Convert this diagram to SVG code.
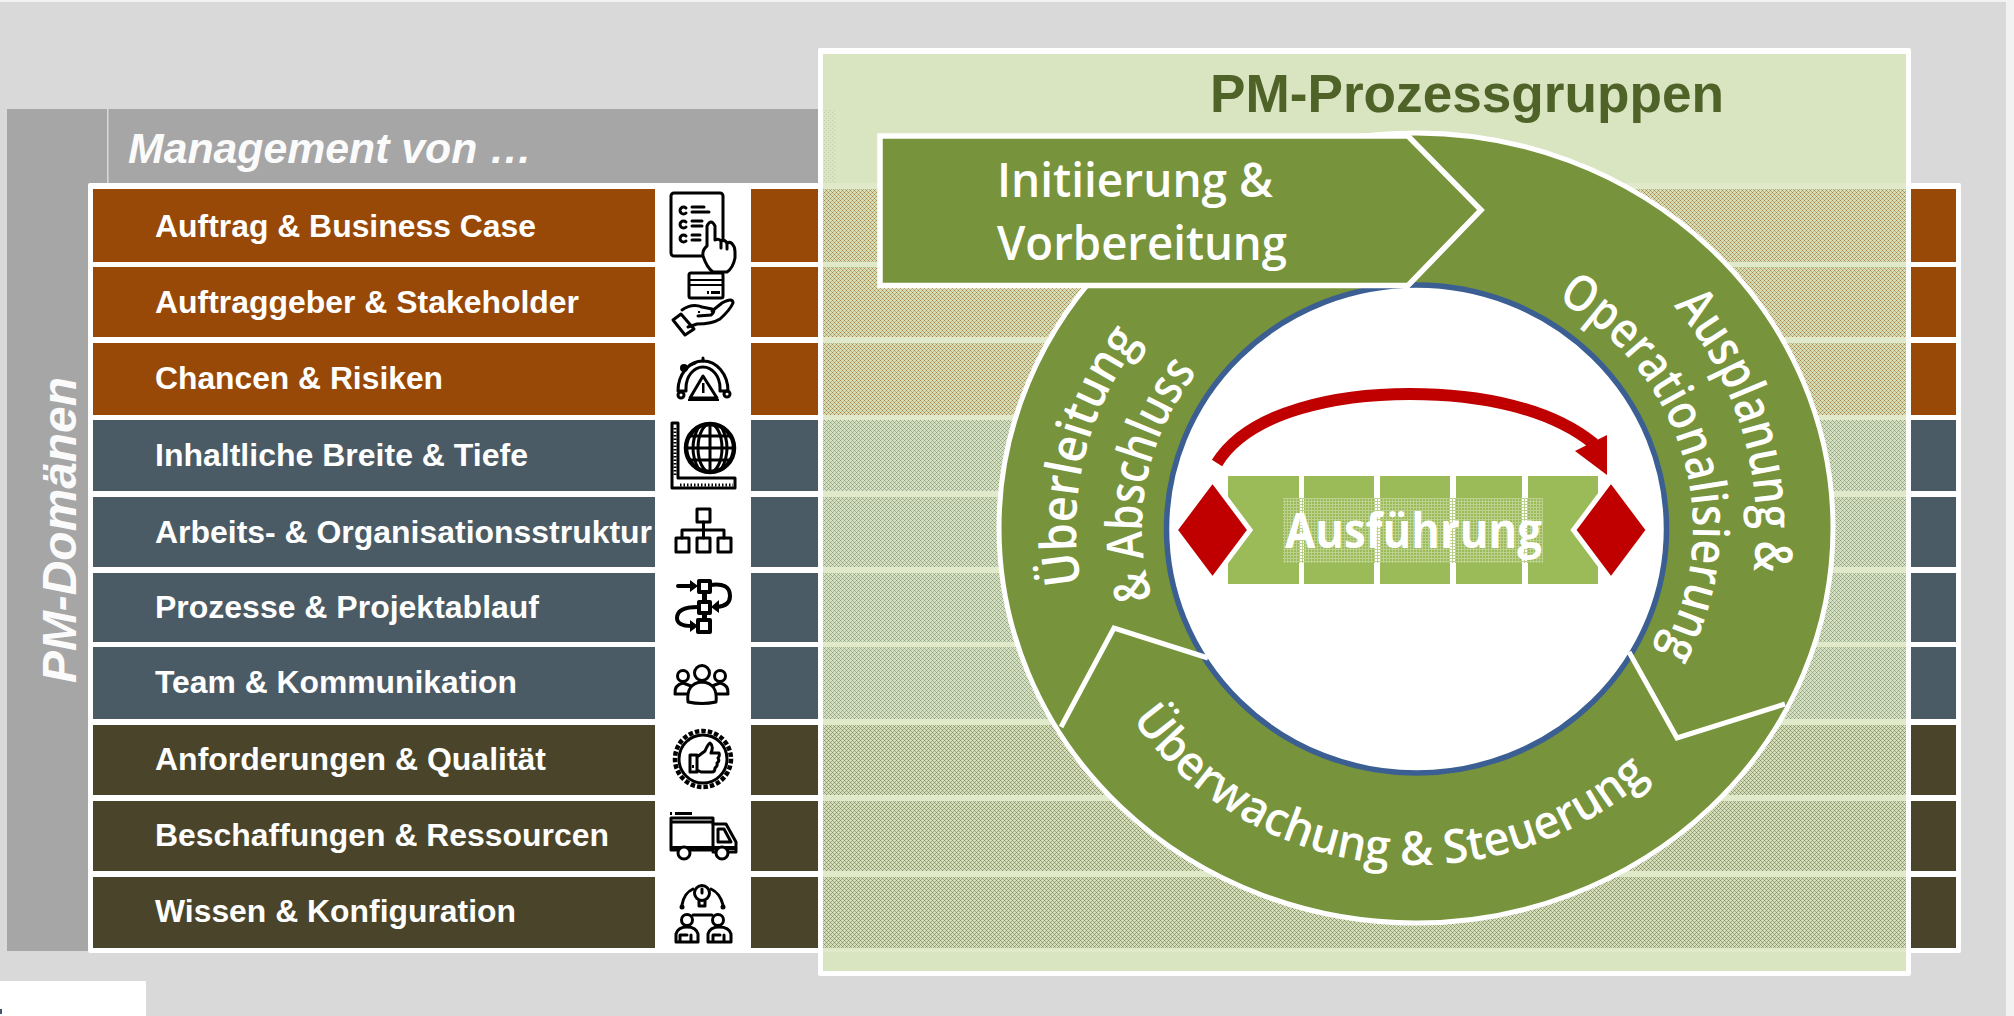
<svg xmlns="http://www.w3.org/2000/svg" xmlns:xlink="http://www.w3.org/1999/xlink" width="2014" height="1016" viewBox="0 0 2014 1016">
<style>
.brown{fill:#984807}.blue{fill:#4a5b65}.olive{fill:#4a452a}
.lbl{font-family:"Liberation Sans",Arial,sans-serif;font-weight:700;font-size:32px;fill:#fff}
.hd{font-family:"Liberation Sans",Arial,sans-serif;font-weight:700;font-style:italic;fill:#fbfbfb}
.ring{font-family:"Open Sans","Noto Sans",sans-serif;font-weight:600;fill:#fff}
.ic{fill:none;stroke:#000;stroke-width:3;stroke-linejoin:round;stroke-linecap:round}
.icw{fill:#fff;stroke:#000;stroke-width:3;stroke-linejoin:round;stroke-linecap:round}
.ick{fill:#000}
.seg{fill:#9bbb59}
.dia{fill:#c00000;stroke:#fff;stroke-width:5}
.cut{fill:none;stroke:#fff;stroke-width:5;stroke-linejoin:miter}
</style>
<defs>
<pattern id="dB" width="4" height="4" patternUnits="userSpaceOnUse" shape-rendering="crispEdges"><rect width="4" height="4" fill="#d6dfb6"/><rect x="0" y="0" width="1" height="1" fill="#a8824c"/><rect x="2" y="2" width="1" height="1" fill="#a8824c"/><rect x="1" y="1" width="1" height="1" fill="#bfae7a"/><rect x="3" y="3" width="1" height="1" fill="#bfae7a"/><rect x="1" y="3" width="1" height="1" fill="#bfae7a"/><rect x="3" y="1" width="1" height="1" fill="#bfae7a"/></pattern>
<pattern id="dS" width="4" height="4" patternUnits="userSpaceOnUse" shape-rendering="crispEdges"><rect width="4" height="4" fill="#d6e1bd"/><rect x="0" y="0" width="1" height="1" fill="#8a9b8a"/><rect x="2" y="2" width="1" height="1" fill="#8a9b8a"/><rect x="1" y="1" width="1" height="1" fill="#a8b69c"/><rect x="3" y="3" width="1" height="1" fill="#a8b69c"/><rect x="1" y="3" width="1" height="1" fill="#a8b69c"/><rect x="3" y="1" width="1" height="1" fill="#a8b69c"/></pattern>
<pattern id="dO" width="4" height="4" patternUnits="userSpaceOnUse" shape-rendering="crispEdges"><rect width="4" height="4" fill="#d4dfb8"/><rect x="0" y="0" width="1" height="1" fill="#84896a"/><rect x="2" y="2" width="1" height="1" fill="#84896a"/><rect x="1" y="1" width="1" height="1" fill="#a2aa89"/><rect x="3" y="3" width="1" height="1" fill="#a2aa89"/><rect x="1" y="3" width="1" height="1" fill="#a2aa89"/><rect x="3" y="1" width="1" height="1" fill="#a2aa89"/></pattern>
<pattern id="dG" width="4" height="4" patternUnits="userSpaceOnUse" shape-rendering="crispEdges"><rect x="0" y="0" width="1" height="1" fill="#c0cfa6"/><rect x="2" y="2" width="1" height="1" fill="#c0cfa6"/></pattern>
<pattern id="dA" width="3" height="3" patternUnits="userSpaceOnUse" shape-rendering="crispEdges"><rect x="0" y="0" width="3" height="1" fill="#bdd18e"/><rect x="0" y="0" width="1" height="3" fill="#bdd18e"/></pattern>
<path id="pAus" d="M1416,188 A340,340 0 1 1 1416,868"/>
<path id="pOp" d="M1416,263 A277,265 0 1 1 1416,793"/>
<path id="pUe" d="M1416,848 A340,320 0 1 1 1416,208"/>
<path id="pAb" d="M1416,786 A274,258 0 1 1 1416,270"/>
<path id="pUw" d="M1071,528 A345,337 0 1 0 1761,528"/>
</defs>

<g id="background">
<rect width="2014" height="1016" fill="#f2f2f2"/>
<rect x="0" y="2" width="2006" height="1014" fill="#d9d9d9"/>
<rect x="0" y="981" width="146" height="35" fill="#fff"/>
<rect x="0" y="1009" width="2" height="5" fill="#44546a"/>
</g>

<g id="domains-frame">
<rect x="7" y="109" width="811" height="842" fill="#a6a6a6"/>
<rect x="107" y="109" width="1.5" height="74" fill="#d9d9d9"/>
<rect x="88" y="183" width="1873" height="770" rx="2" fill="#fff"/>
<text class="hd" x="128" y="163" font-size="42" textLength="404" lengthAdjust="spacingAndGlyphs">Management von …</text>
<text class="hd" transform="translate(76,683) rotate(-90)" font-size="48" textLength="306" lengthAdjust="spacingAndGlyphs">PM-Domänen</text>
</g>

<g id="row-1"><rect class="brown" x="93" y="189" width="562" height="73"/><rect class="brown" x="751" y="189" width="67" height="73"/><rect class="brown" x="1911" y="189" width="45" height="73"/><text class="lbl" x="155" y="237" textLength="381" lengthAdjust="spacingAndGlyphs">Auftrag &amp; Business Case</text></g>
<g id="row-2"><rect class="brown" x="93" y="267" width="562" height="70"/><rect class="brown" x="751" y="267" width="67" height="70"/><rect class="brown" x="1911" y="267" width="45" height="70"/><text class="lbl" x="155" y="313" textLength="424" lengthAdjust="spacingAndGlyphs">Auftraggeber &amp; Stakeholder</text></g>
<g id="row-3"><rect class="brown" x="93" y="343" width="562" height="72"/><rect class="brown" x="751" y="343" width="67" height="72"/><rect class="brown" x="1911" y="343" width="45" height="72"/><text class="lbl" x="155" y="389" textLength="288" lengthAdjust="spacingAndGlyphs">Chancen &amp; Risiken</text></g>
<g id="row-4"><rect class="blue" x="93" y="420" width="562" height="71"/><rect class="blue" x="751" y="420" width="67" height="71"/><rect class="blue" x="1911" y="420" width="45" height="71"/><text class="lbl" x="155" y="466" textLength="373" lengthAdjust="spacingAndGlyphs">Inhaltliche Breite &amp; Tiefe</text></g>
<g id="row-5"><rect class="blue" x="93" y="497" width="562" height="70"/><rect class="blue" x="751" y="497" width="67" height="70"/><rect class="blue" x="1911" y="497" width="45" height="70"/><text class="lbl" x="155" y="543" textLength="497" lengthAdjust="spacingAndGlyphs">Arbeits- &amp; Organisationsstruktur</text></g>
<g id="row-6"><rect class="blue" x="93" y="573" width="562" height="69"/><rect class="blue" x="751" y="573" width="67" height="69"/><rect class="blue" x="1911" y="573" width="45" height="69"/><text class="lbl" x="155" y="618" textLength="384" lengthAdjust="spacingAndGlyphs">Prozesse &amp; Projektablauf</text></g>
<g id="row-7"><rect class="blue" x="93" y="647" width="562" height="72"/><rect class="blue" x="751" y="647" width="67" height="72"/><rect class="blue" x="1911" y="647" width="45" height="72"/><text class="lbl" x="155" y="693" textLength="362" lengthAdjust="spacingAndGlyphs">Team &amp; Kommunikation</text></g>
<g id="row-8"><rect class="olive" x="93" y="725" width="562" height="70"/><rect class="olive" x="751" y="725" width="67" height="70"/><rect class="olive" x="1911" y="725" width="45" height="70"/><text class="lbl" x="155" y="770" textLength="391" lengthAdjust="spacingAndGlyphs">Anforderungen &amp; Qualität</text></g>
<g id="row-9"><rect class="olive" x="93" y="801" width="562" height="70"/><rect class="olive" x="751" y="801" width="67" height="70"/><rect class="olive" x="1911" y="801" width="45" height="70"/><text class="lbl" x="155" y="846" textLength="454" lengthAdjust="spacingAndGlyphs">Beschaffungen &amp; Ressourcen</text></g>
<g id="row-10"><rect class="olive" x="93" y="877" width="562" height="71"/><rect class="olive" x="751" y="877" width="67" height="71"/><rect class="olive" x="1911" y="877" width="45" height="71"/><text class="lbl" x="155" y="922" textLength="361" lengthAdjust="spacingAndGlyphs">Wissen &amp; Konfiguration</text></g>

<g id="icon-1">
<rect class="ic" x="671" y="193" width="52" height="63" rx="3"/>
<path class="ic" d="M686,208 a3.5,3.5 0 1 0 0,5 M686,222 a3.5,3.5 0 1 0 0,5 M686,236 a3.5,3.5 0 1 0 0,5 M692,207 h12 M692,212 h17 M692,221 h10 M692,226 h10 M692,235 h8 M692,240 h8"/>
<path class="icw" d="M707,246 L707,226 Q711,218 715,226 L715,240 Q719,238 721,241 Q725,239 727,243 Q731,241 733,245 Q735,247 735,252 L735,258 Q733,268 727,272 L713,272 Q707,268 703,256 Q702,250 707,246 Z"/>
<path class="ic" d="M721,241 v7 M727,243 v6"/>
</g>
<g id="icon-2">
<rect class="ic" x="689" y="273" width="34" height="25" rx="2"/>
<rect class="ick" x="689" y="279" width="34" height="2"/><rect class="ick" x="689" y="284" width="34" height="2"/>
<rect class="ick" x="707" y="291" width="2" height="3"/><rect class="ick" x="711" y="291" width="9" height="3"/>
<path class="ic" d="M682,310 Q692,303 702,307 L712,309 Q716,311 711,315 L698,316 M712,311 L722,303 Q733,297 733,303 Q730,310 720,319 Q712,324 697,324 L688,327"/>
<path class="ic" d="M673,320 L681,314 L694,329 L685,335 Z"/>
<rect class="ick" x="698" y="311" width="2" height="2"/>
</g>
<g id="icon-3">
<path class="ic" d="M678,391 A25,30 0 0 1 728,391 M686,391 L686,388 A17,21 0 0 1 720,388 L720,391 M678,391 H686 M720,391 H728"/>
<path class="ic" d="M703,376 L690,398 H717 Z"/>
<rect class="ick" x="702" y="383" width="2.5" height="10"/>
<rect class="ick" x="688" y="399" width="31" height="2"/>
<circle class="ic" cx="681" cy="395" r="3"/><circle class="ic" cx="727" cy="394" r="3"/>
<circle class="ick" cx="684" cy="368" r="4"/><path class="ic" d="M690,365 l5,-2 M703,358 v3"/>
</g>
<g id="icon-4">
<path class="ic" d="M672,423 H678 V478 H735 V488 H672 Z"/>
<path d="M675,428 V476 M680,485 H733" fill="none" stroke="#000" stroke-width="3" stroke-dasharray="1.5 2"/>
<circle cx="710" cy="448" r="24" fill="none" stroke="#000" stroke-width="4.500"/>
<ellipse class="ic" cx="710" cy="448" rx="12" ry="24"/>
<path class="ic" d="M710,425 V471 M687,448 H733 M691,436 H729 M691,460 H729"/>
<path class="ic" d="M698,428 Q688,448 698,468 M722,428 Q732,448 722,468"/>
</g>
<g id="icon-5">
<rect class="ic" x="697" y="509" width="13" height="13"/>
<path class="ic" d="M703.500,522 V538 M682,538 V530 H724 V538"/>
<rect class="ic" x="676" y="538" width="13" height="14"/><rect class="ic" x="697" y="538" width="13" height="14"/><rect class="ic" x="718" y="538" width="13" height="14"/>
</g>
<g id="icon-6">
<rect class="ic" x="699" y="581" width="11" height="11" style="stroke-width:4"/><rect class="ic" x="699" y="602" width="11" height="11" style="stroke-width:4"/><rect class="ic" x="698" y="620" width="12" height="12" style="stroke-width:4"/>
<rect class="ick" x="702" y="592" width="5" height="10"/><rect class="ick" x="702" y="613" width="5" height="7"/>
<path class="ic" d="M678,586 H693 M710,585 Q730,582 730,596 Q730,606 717,607 M698,607 Q677,607 677,618 Q677,626 692,626" style="stroke-width:4"/>
<path class="ick" d="M690,580 L698,586 L690,592 Z M719,600 L711,607 L719,613 Z M690,620 L698,626 L690,632 Z"/>
</g>
<g id="icon-7">
<circle class="ic" cx="683" cy="676" r="5.500"/><circle class="ic" cx="720" cy="676" r="5.500"/>
<path class="ic" d="M675,694 Q674,685 683,683 L691,686 M728,694 Q729,685 720,683 L712,686 M675,694 H687 M728,694 H716"/>
<circle class="icw" cx="702" cy="673" r="7.500"/>
<path class="icw" d="M688,702 Q686,683 702,682 Q718,683 716,702 Q702,705 688,702 Z"/>
</g>
<g id="icon-8">
<circle cx="703" cy="759" r="28" fill="none" stroke="#000" stroke-width="4.500" stroke-dasharray="4.500 2"/>
<circle class="ic" cx="703" cy="759" r="24"/>
<path class="ic" d="M690,755 H697 V772 H690 Z M697,757 L705,751 Q708,744 710,743 Q714,746 711,753 H719 Q720,756 718,758 Q720,761 717,763 Q718,766 715,768 Q715,772 712,772 H701 L697,770"/>
<rect class="ick" x="692" y="765" width="2" height="3"/>
</g>
<g id="icon-9">
<path class="ick" d="M670,812 h2 v3 h-2 z M675,812 h17 v3 h-17 z"/>
<path class="ic" d="M671,818 H713 V850 H671 Z M671,822 H713"/>
<path class="ic" d="M713,824 H726 L736,842 V852 H713 M718,829 H724 L731,842 H718 Z"/>
<rect class="ick" x="671" y="846" width="64" height="4"/>
<circle class="icw" cx="684" cy="853" r="6"/><circle class="icw" cx="722" cy="853" r="6"/>
</g>
<g id="icon-10">
<circle class="ic" cx="702" cy="893" r="7.500"/><path class="ic" d="M699,901 V906 H705 V901 M702,889 v4"/>
<path class="ic" d="M693,889 Q684,893 682,905 M711,889 Q720,893 723,905"/>
<circle class="ick" cx="682" cy="907" r="2.500"/><circle class="ick" cx="723" cy="907" r="2.500"/>
<circle class="ic" cx="687" cy="920" r="5.500"/><circle class="ic" cx="718" cy="920" r="5.500"/>
<path class="ic" d="M693,915 H712"/>
<path class="ic" d="M676,942 V934 Q678,927 687,927 Q696,927 698,934 V942 Z M708,942 V934 Q710,927 719,927 Q729,927 731,934 V942 Z M680,941 V935 H687 M691,941 V935 M713,941 V935 H720 M724,941 V935"/>
</g>

<g id="process-panel">
<rect x="818" y="48" width="1093" height="928" rx="2" fill="#fff"/>
<rect x="823" y="54" width="1083" height="917" fill="#d9e4c0"/>
<rect x="823" y="109" width="12" height="74" fill="url(#dG)"/>
<rect x="823" y="183" width="1083" height="769" fill="#e0eaca"/>
<rect x="823" y="189" width="1083" height="73" fill="url(#dB)"/>
<rect x="823" y="267" width="1083" height="70" fill="url(#dB)"/>
<rect x="823" y="343" width="1083" height="72" fill="url(#dB)"/>
<rect x="823" y="420" width="1083" height="71" fill="url(#dS)"/>
<rect x="823" y="497" width="1083" height="70" fill="url(#dS)"/>
<rect x="823" y="573" width="1083" height="69" fill="url(#dS)"/>
<rect x="823" y="647" width="1083" height="72" fill="url(#dS)"/>
<rect x="823" y="725" width="1083" height="70" fill="url(#dO)"/>
<rect x="823" y="801" width="1083" height="70" fill="url(#dO)"/>
<rect x="823" y="877" width="1083" height="71" fill="url(#dO)"/>
<text x="1210" y="112" font-family="'Liberation Sans',Arial,sans-serif" font-weight="700" font-size="54" fill="#4f6228" textLength="514" lengthAdjust="spacingAndGlyphs">PM-Prozessgruppen</text>
</g>

<g id="cycle-ring">
<path fill="#77933c" stroke="#fff" stroke-width="5" d="M999,528 A417,395 0 1 1 1833,528 A417,395 0 1 1 999,528 Z"/>
<ellipse cx="1416.500" cy="529" rx="250" ry="244" fill="#fff" stroke="#3b5f92" stroke-width="5.500"/>
<path class="cut" d="M1061,727 L1114,628 L1208,658"/>
<path class="cut" d="M1629,652 L1677,738 L1785,704"/>
</g>

<g id="node-ausplanung"><text class="ring" font-size="52"><textPath href="#pAus" startOffset="292" textLength="285" lengthAdjust="spacingAndGlyphs">Ausplanung &amp;</textPath></text>
<text class="ring" font-size="50"><textPath href="#pOp" startOffset="147" textLength="409" lengthAdjust="spacingAndGlyphs">Operationalisierung</textPath></text></g>
<g id="node-ueberleitung"><text class="ring" font-size="50"><textPath href="#pUe" startOffset="462" textLength="258" lengthAdjust="spacingAndGlyphs">Überleitung</textPath></text>
<text class="ring" font-size="50"><textPath href="#pAb" startOffset="346" textLength="240" lengthAdjust="spacingAndGlyphs">&amp; Abschluss</textPath></text></g>
<g id="node-ueberwachung"><text class="ring" font-size="47"><textPath href="#pUw" startOffset="204" textLength="586" lengthAdjust="spacingAndGlyphs">Überwachung &amp; Steuerung</textPath></text></g>

<g id="node-initiierung">
<path fill="#77933c" stroke="#fff" stroke-width="5.500" d="M880,136 H1408 L1481,210 L1408,285.500 H880 Z"/>
<text class="ring" x="997" y="197" font-size="47" textLength="276" lengthAdjust="spacingAndGlyphs">Initiierung &amp;</text>
<text class="ring" x="997" y="260" font-size="47" textLength="290" lengthAdjust="spacingAndGlyphs">Vorbereitung</text>
</g>

<g id="node-ausfuehrung">
<rect class="seg" x="1228" y="476" width="71" height="108"/><rect class="seg" x="1304" y="476" width="70" height="108"/><rect class="seg" x="1380" y="476" width="70" height="108"/><rect class="seg" x="1456" y="476" width="66" height="108"/><rect class="seg" x="1528" y="476" width="70" height="108"/>
<rect x="1283" y="498" width="260" height="65" fill="url(#dA)"/>
<polygon class="dia" points="1212.500,480 1250,530 1212.500,580 1175,530"/>
<polygon class="dia" points="1611,480 1648.500,530 1611,580 1573.500,530"/>
<text x="1285" y="548" font-family="'Open Sans','Noto Sans',sans-serif" font-weight="700" fill="#fff" font-size="48" textLength="257" lengthAdjust="spacingAndGlyphs">Ausführung</text>
</g>

<g id="connectors">
<path d="M1217,463 C1250,410 1340,394 1410,394 C1480,394 1550,408 1594,444" fill="none" stroke="#c00000" stroke-width="12"/>
<polygon points="1607,435 1607,475 1575,451" fill="#c00000"/>
</g>
</svg>
